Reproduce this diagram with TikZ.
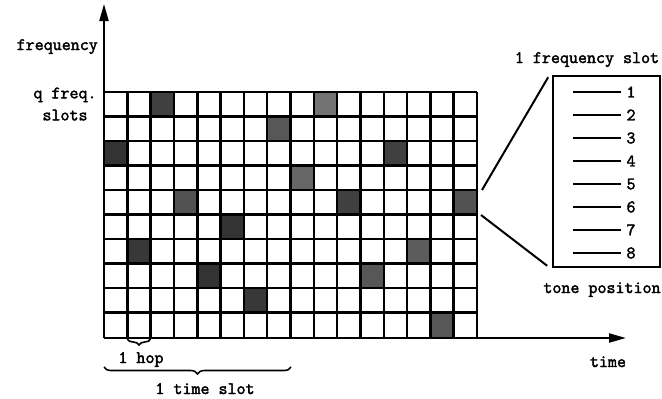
\documentclass[tikz,border=0pt]{standalone}
\usepackage{fontspec}
\newfontfamily\twfont[FakeBold=2.2]{Latin Modern Mono}
\usetikzlibrary{arrows.meta,decorations.pathreplacing,calc}
\begin{document}
\begin{tikzpicture}[x=1pt,y=-1pt,
  lbl/.style={font=\fontsize{17.5}{22}\selectfont\twfont\bfseries, inner sep=0pt},
  gridline/.style={line width=2.5pt},
  axis/.style={line width=2pt,-{Triangle[length=17pt,width=9pt]}},
  tone/.style={line width=2pt},
  zoomline/.style={line width=2pt},
  bracestyle/.style={line width=1.6pt, decorate, decoration={brace, mirror, amplitude=#1}}]
\useasboundingbox (0,0) rectangle (662,399);
% shaded hop cells: column / row / darkness
\foreach \c/\r/\s in {1/3/80,2/7/78,3/1/75,4/5/68,5/8/80,6/6/80,7/9/78,8/2/66,
                       9/4/60,10/1/55,11/5/75,12/8/66,13/3/75,14/7/64,15/10/66,16/5/68}
  \fill[black!\s] ({104+(\c-1)*23.3125},{92+(\r-1)*24.5}) rectangle ++(23.3125,24.5);
% grid
\foreach \i in {1,...,16}
  \draw[gridline] ({104+\i*23.3125},92) -- ({104+\i*23.3125},337);
\foreach \j in {0,...,9}
  \draw[gridline] (104,{92+\j*24.5}) -- (477,{92+\j*24.5});
% axes
\coordinate (O) at (104,338);
\coordinate (ytip) at (104,4);
\coordinate (xtip) at (626,338);
\draw[axis] (O) -- (ytip);
\draw[axis] (O) -- (xtip);
% labels
\node[lbl, anchor=base east] (freq) at (98,50) {frequency};
\node[lbl, align=center] (qslots) at (65,104) {q freq.\\slots};
\node[lbl, anchor=base] (tlabel) at (608,367) {time};
\node[lbl, anchor=base] (hop) at (141,363) {1 hop};
\node[lbl, anchor=base] (tslot) at (205,394) {1 time slot};
% zoom box
\node[draw, line width=1.6pt, minimum width=107pt, minimum height=191pt, inner sep=0pt] (box) at (606.5,171.5) {};
\node[lbl, anchor=base] (fslot) at (587,63) {1 frequency slot};
\node[lbl, anchor=base] (tpos) at (602,293) {tone position};
\foreach \k in {1,...,8}{
  \node[lbl] (t\k) at (631,{92+(\k-1)*23}) {\k};
  \draw[tone] ($(t\k.west)+(-53,0)$) -- ($(t\k.west)+(-5,0)$);
}
\coordinate (z1) at (482,190);
\coordinate (z2) at (481,215);
\draw[zoomline] (z1) -- ($(box.north west)+(-4,2)$);
\draw[zoomline] (z2) -- ($(box.south west)+(-5,-2)$);
% braces
\draw[bracestyle=6pt] (127.3,339) -- (150.6,339);
\draw[bracestyle=7pt] (104,367) -- (291,367);
\end{tikzpicture}
\end{document}
